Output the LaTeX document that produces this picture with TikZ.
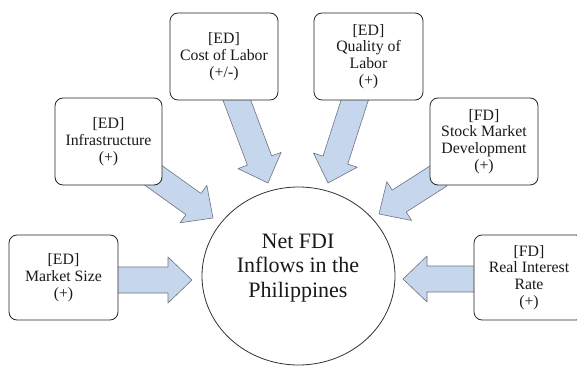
\documentclass[tikz,border=0pt]{standalone}
\usepackage{fontspec}
\setmainfont{Liberation Serif}
\usetikzlibrary{calc,shapes.geometric}
\pgfdeclarelayer{bg}
\pgfsetlayers{bg,main}
\definecolor{arrfill}{RGB}{198,214,237}
\definecolor{arrline}{RGB}{110,115,125}
\tikzset{
  factor/.style={draw=black!85, line width=0.8pt, rounded corners=8pt, fill=white,
    align=center, inner sep=0pt, text=black!90,
    font=\fontsize{15.8}{16.8}\selectfont},
  target/.style={draw=black!80, line width=0.8pt, ellipse, fill=white, inner sep=0pt},
  targettext/.style={align=center, text=black!90, font=\fontsize{22}{24.5}\selectfont},
  blockarr/.style={draw=arrline, line width=0.6pt, fill=arrfill, line join=round},
}
\newcommand\blockarrow[2]{%
  \path[blockarr] let \p1=(#1), \p2=(#2),
    \n1={atan2(\y2-\y1,\x2-\x1)}, \n2={veclen(\x2-\x1,\y2-\y1)} in
    [shift={(\p1)}, rotate=\n1]
    (0pt,-13pt) -- (\n2-24pt,-13pt) -- (\n2-24pt,-23pt) -- (\n2,0pt)
    -- (\n2-24pt,23pt) -- (\n2-24pt,13pt) -- (0pt,13pt) -- cycle;}
\begin{document}
\begin{tikzpicture}[x=1pt,y=-1pt]
\useasboundingbox (0,0) rectangle (577,366);
% central target
\node[target, minimum width=193pt, minimum height=178pt] (c) at (298.5,276) {};
\node[targettext] (ct) at (298,268) {Net FDI\\Inflows in the\\Philippines};
% factors
\node[factor, minimum width=109pt, minimum height=85pt] (ms) at (63.5,277.5) {[ED]\\Market Size\\(+)};
\node[factor, minimum width=107pt, minimum height=87pt] (inf) at (108.5,141.5) {[ED]\\Infrastructure\\(+)};
\node[factor, minimum width=108pt, minimum height=87pt] (col) at (224,56.5) {[ED]\\Cost of Labor\\(+/-)};
\node[factor, minimum width=109pt, minimum height=87pt] (qol) at (368.5,56.5) {[ED]\\Quality of\\Labor\\(+)};
\node[factor, minimum width=108pt, minimum height=87pt] (smd) at (484,141.5) {[FD]\\Stock Market\\Development\\(+)};
\node[factor, minimum width=110pt, minimum height=85pt] (rir) at (529,277.5) {[FD]\\Real Interest\\Rate\\(+)};
% arrow ends
\coordinate (a1s) at (112,280);  \coordinate (a1e) at (192,280);
\coordinate (a2s) at (150,173);  \coordinate (a2e) at (213,218);
\coordinate (a3s) at (233,90);   \coordinate (a3e) at (268,183);
\coordinate (a4s) at (358,90);   \coordinate (a4e) at (328,183);
\coordinate (a5s) at (440,175);  \coordinate (a5e) at (379,214);
\coordinate (a6s) at (480,279);  \coordinate (a6e) at (403,279);
\begin{pgfonlayer}{bg}
\blockarrow{a1s}{a1e}
\blockarrow{a2s}{a2e}
\blockarrow{a3s}{a3e}
\blockarrow{a4s}{a4e}
\blockarrow{a5s}{a5e}
\blockarrow{a6s}{a6e}
\end{pgfonlayer}
\end{tikzpicture}
\end{document}
